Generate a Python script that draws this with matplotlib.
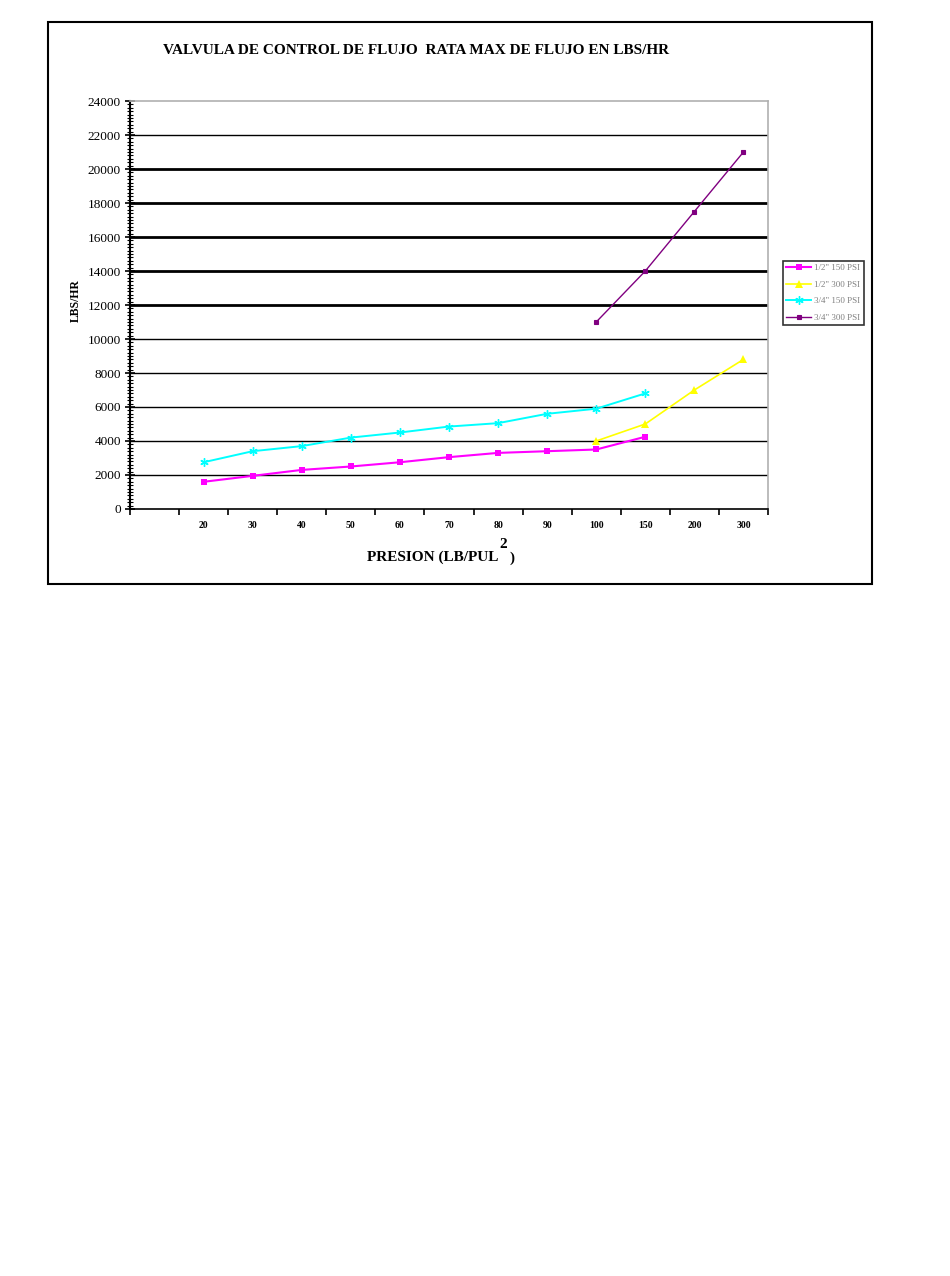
import numpy as np
import matplotlib
matplotlib.use("Agg")
import matplotlib.pyplot as plt
from matplotlib.patches import Rectangle
from matplotlib.ticker import FixedLocator, MultipleLocator, NullFormatter

nan = np.nan

# Pressure categories (first slot left empty on the axis)
presion = ["", "20", "30", "40", "50", "60", "70", "80", "90", "100", "150", "200", "300"]

# Maximum flow rate, LBS/HR
media_150 = [nan, 1600, 1950, 2300, 2500, 2750, 3050, 3300, 3400, 3500, 4250, nan, nan]
media_300 = [nan, nan, nan, nan, nan, nan, nan, nan, nan, 4000, 5000, 7000, 8800]
tres_cuartos_150 = [nan, 2750, 3400, 3700, 4200, 4500, 4850, 5050, 5600, 5900, 6800, nan, nan]
tres_cuartos_300 = [nan, nan, nan, nan, nan, nan, nan, nan, nan, 11000, 14000, 17500, 21000]

series_labels = ['1/2" 150 PSI', '1/2" 300 PSI', '3/4" 150 PSI', '3/4" 300 PSI']

W, H = 950, 1276
fig = plt.figure(figsize=(W / 100, H / 100), dpi=100)
fig.patch.set_facecolor("white")

def fx(x):
    return x / W

def fy(y):
    return 1 - y / H

serif = "Liberation Serif"

# outer chart frame
fig.patches.append(Rectangle((fx(48), fy(584)), fx(872) - fx(48), fy(22) - fy(584),
                             transform=fig.transFigure, fill=False,
                             edgecolor="black", linewidth=1.5, zorder=0))

ax = fig.add_axes([fx(130), fy(509), fx(768) - fx(130), fy(101) - fy(509)])
ax.set_facecolor("white")

x = np.arange(len(presion))

l1, = ax.plot(x, media_150, color="#FF00FF", linewidth=1.5, marker="s",
              markersize=5, markeredgewidth=0, zorder=4)
l2, = ax.plot(x, media_300, color="#FFFF00", linewidth=1.2, marker="^",
              markersize=6, markeredgewidth=0, zorder=4)
l3, = ax.plot(x, tres_cuartos_150, color="#00FFFF", linewidth=1.4, marker=(6, 2, 0),
              markersize=6, markeredgewidth=1.0, zorder=4)
l4, = ax.plot(x, tres_cuartos_300, color="#800080", linewidth=1.0, marker="s",
              markersize=3.5, markeredgewidth=0.8, zorder=4)

ax.set_xlim(-0.5, len(presion) - 0.5)
ax.set_ylim(0, 24000)

# y axis: major every 2000, minor every 200
ax.yaxis.set_major_locator(MultipleLocator(2000))
ax.yaxis.set_minor_locator(MultipleLocator(200))
ax.tick_params(axis="y", which="major", direction="inout", length=7, width=1.2,
               labelsize=9.5, pad=3)
ax.tick_params(axis="y", which="minor", direction="inout", length=5, width=0.8)
for t in ax.get_yticklabels():
    t.set_fontfamily(serif)

# x axis: ticks at category boundaries, labels at category centres
ax.xaxis.set_major_locator(FixedLocator(np.arange(-0.5, len(presion), 1.0)))
ax.xaxis.set_major_formatter(NullFormatter())
ax.xaxis.set_minor_locator(FixedLocator(x))
ax.set_xticklabels(presion, minor=True)
ax.tick_params(axis="x", which="major", direction="out", length=4, width=1.2)
ax.tick_params(axis="x", which="minor", length=0, labelsize=7, pad=9)
for t in ax.get_xticklabels(minor=True):
    t.set_fontfamily(serif)
    t.set_fontweight("bold")

# horizontal gridlines; the middle band is drawn heavier
ax.yaxis.grid(True, which="major", color="black", linewidth=1.0, zorder=1)
ax.set_axisbelow(True)
for val, gl in zip(ax.get_yticks(), ax.get_ygridlines()):
    if 12000 <= val <= 20000:
        gl.set_linewidth(2.0)
    if val <= 0 or val >= 24000:
        gl.set_visible(False)

for side in ("top", "right"):
    ax.spines[side].set_color("#b0b0b0")
    ax.spines[side].set_linewidth(1.2)
ax.spines["left"].set_linewidth(1.5)
ax.spines["bottom"].set_linewidth(1.2)

# titles
fig.text(fx(416), fy(50), "VALVULA DE CONTROL DE FLUJO  RATA MAX DE FLUJO EN LBS/HR",
         ha="center", va="center", fontsize=11, fontweight="bold", family=serif)
fig.text(fx(76), fy(301), "LBS/HR", rotation=90, ha="center", va="center",
         fontsize=8.5, fontweight="bold", family=serif)
fig.text(fx(498), fy(557), "PRESION (LB/PUL", ha="right", va="center",
         fontsize=11, fontweight="bold", family=serif)
fig.text(fx(503), fy(545), "2", ha="center", va="center",
         fontsize=11, fontweight="bold", family=serif)
fig.text(fx(512), fy(558), ")", ha="center", va="center",
         fontsize=11, fontweight="bold", family=serif)

leg = fig.legend([l1, l2, l3, l4], series_labels, loc="upper left",
                 bbox_to_anchor=(fx(778), fy(256)), bbox_transform=fig.transFigure,
                 frameon=True, fancybox=False, shadow=False, borderpad=0.4,
                 handlelength=2.8, handletextpad=0.3, labelspacing=0.9,
                 prop={"family": serif, "size": 6.5})
leg.get_frame().set_edgecolor("black")
leg.get_frame().set_linewidth(1.2)
for t in leg.get_texts():
    t.set_color("#808080")

fig.savefig("out.png", dpi=100, facecolor="white")
